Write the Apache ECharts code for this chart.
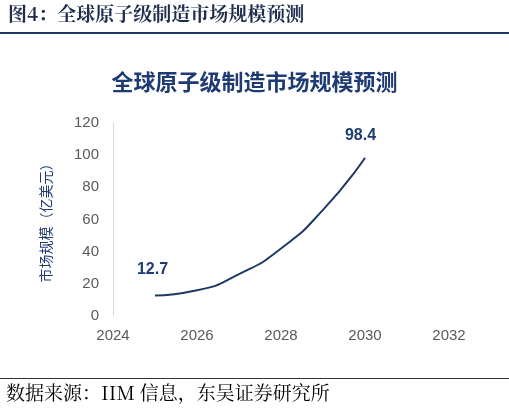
<!DOCTYPE html><html><head><meta charset="utf-8"><script src="https://cdn.jsdelivr.net/npm/echarts@6/dist/echarts.min.js"></script></head><body style="margin:0"><div id="c" style="width:509px;height:412px"></div><script>
const years=[2025,2026,2027,2028,2029,2030];
const values=[12.7,16,26,42,66,98.4];
const chartTitle='全球原子级制造市场规模预测';
const header='图4：全球原子级制造市场规模预测';
const source='数据来源：IIM 信息，东吴证券研究所';
const yName='市场规模（亿美元）';
const c=echarts.init(document.getElementById('c'));
const F='"Noto Sans CJK SC"';
c.setOption({
 animation:false,
 title:{text:chartTitle,left:'center',top:66,textStyle:{fontFamily:F,fontSize:22,fontWeight:'bold',color:'#1f3b73'}},
 grid:{left:113,right:509-449,top:123,bottom:412-316},
 xAxis:{type:'value',min:2024,max:2032,interval:2,axisLine:{show:false},axisTick:{show:false},splitLine:{show:false},axisLabel:{color:'#595959',fontSize:15,fontFamily:'Arial',margin:12,formatter:v=>String(v)}},
 yAxis:{type:'value',min:0,max:120,interval:20,name:yName,nameLocation:'middle',nameGap:60,nameTextStyle:{color:'#1f3b73',fontSize:14,fontFamily:F},axisLine:{show:true,lineStyle:{color:'#d9d9d9'}},axisTick:{show:false},splitLine:{show:false},axisLabel:{color:'#595959',fontSize:15,fontFamily:'Arial',margin:14}},
 series:[{type:'line',smooth:0.6,symbol:'circle',symbolSize:0.1,showSymbol:true,lineStyle:{color:'#1f3864',width:2},
  data:years.map((y,i)=>({value:[y,values[i]],label:{show:i==0||i==years.length-1,position:i==0?[-18,-34]:[-20,-30],formatter:p=>p.value[1].toFixed(1),color:'#1f3b73',fontSize:16,fontWeight:'bold',fontFamily:'Arial'}}))}],
 graphic:[
  {type:'text',left:8,top:4,style:{text:header,fontFamily:'"Noto Serif CJK SC","Noto Sans CJK SC"',fontSize:19,fontWeight:'bold',fill:'#1f2d4d'}},
  {type:'rect',shape:{x:0,y:32,width:509,height:2},style:{fill:'#1f3864'}},
  {type:'rect',shape:{x:0,y:378,width:509,height:1},style:{fill:'#333'}},
  {type:'text',left:6,top:383,style:{text:source,fontFamily:'"Noto Serif CJK SC","Noto Sans CJK SC"',fontSize:19,fill:'#000'}}
 ]
});
</script></body></html>
